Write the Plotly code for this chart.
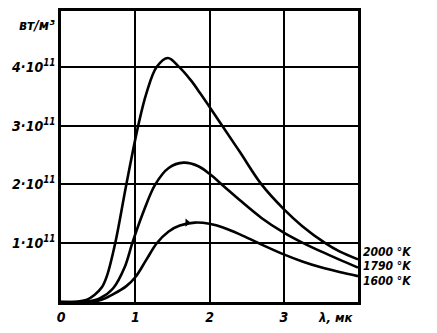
import plotly.graph_objects as go

# Spectral energy density of a black body, in units of 1e11 W/m^3, vs wavelength (µm)
lam_2000 = [0.0, 0.2, 0.35, 0.45, 0.55, 0.62, 0.73, 0.88, 1.04, 1.15, 1.29, 1.44,
            1.59, 1.75, 1.87, 2.0, 2.16, 2.41, 2.7, 3.0, 3.25, 3.55, 3.75, 4.0]
u_2000 = [0.0, 0.005, 0.04, 0.12, 0.25, 0.45, 1.0, 2.0, 3.0, 3.55, 4.0, 4.15,
          4.0, 3.77, 3.56, 3.32, 3.02, 2.55, 2.0, 1.58, 1.29, 1.01, 0.86, 0.725]

lam_1790 = [0.0, 0.35, 0.52, 0.7, 0.86, 0.96, 1.1, 1.27, 1.45, 1.65, 1.85, 2.0,
            2.2, 2.41, 2.7, 3.0, 3.25, 3.5, 3.75, 4.0]
u_1790 = [0.0, 0.005, 0.06, 0.23, 0.6, 1.0, 1.5, 2.0, 2.28, 2.37, 2.31, 2.18,
          1.96, 1.73, 1.43, 1.18, 1.01, 0.86, 0.72, 0.585]

lam_1600 = [0.0, 0.45, 0.57, 0.7, 0.88, 1.0, 1.15, 1.29, 1.45, 1.6, 1.8, 2.0,
            2.2, 2.41, 2.68, 3.0, 3.25, 3.5, 3.75, 4.0]
u_1600 = [0.0, 0.01, 0.05, 0.13, 0.27, 0.42, 0.72, 1.0, 1.2, 1.3, 1.35, 1.33,
          1.26, 1.15, 0.99, 0.81, 0.69, 0.59, 0.51, 0.44]

curve_labels = ["2000 °K", "1790 °K", "1600 °K"]
label_y_px = [251, 266, 281]

x_ticks = [0, 1, 2, 3]
y_ticks = [1, 2, 3, 4]
y_tick_text = ["1·10<sup>11</sup>", "2·10<sup>11</sup>", "3·10<sup>11</sup>", "4·10<sup>11</sup>"]

W, H = 437, 333
ML, MR, MT, MB = 61, 79, 8, 31
FONT = "DejaVu Sans Condensed, DejaVu Sans, Liberation Sans, sans-serif"

fig = go.Figure()
for lam, u in [(lam_2000, u_2000), (lam_1790, u_1790), (lam_1600, u_1600)]:
    fig.add_trace(go.Scatter(
        x=lam, y=u, mode="lines",
        line=dict(color="black", width=2.6, shape="spline", smoothing=1.0),
        hoverinfo="skip", showlegend=False))

# small arrowhead drawn on the lowest curve
fig.add_trace(go.Scatter(
    x=[1.7], y=[1.35], mode="markers",
    marker=dict(symbol="triangle-right", size=7, color="black"),
    hoverinfo="skip", showlegend=False))

fig.update_xaxes(
    range=[0, 4], tickvals=x_ticks,
    ticktext=[f"<b><i>{v}</i></b>" for v in x_ticks],
    showgrid=True, gridcolor="black", gridwidth=2,
    showline=True, linecolor="black", linewidth=2.5, mirror=True,
    zeroline=False, ticks="", ticklen=0,
    tickfont=dict(family=FONT, size=14, color="black"))
fig.update_yaxes(
    range=[0, 4.95], tickvals=y_ticks,
    ticktext=[f"<b><i>{t}</i></b>" for t in y_tick_text],
    showgrid=True, gridcolor="black", gridwidth=2,
    showline=True, linecolor="black", linewidth=2.5, mirror=True,
    zeroline=False, ticks="", ticklen=2,
    tickfont=dict(family=FONT, size=14, color="black"))

plot_h = H - MT - MB
for text, py in zip(curve_labels, label_y_px):
    fig.add_annotation(
        x=1.0, xref="paper", xanchor="left", xshift=3,
        y=1 - (py - MT) / plot_h, yref="paper", yanchor="middle",
        text=f"<b><i>{text}</i></b>", showarrow=False,
        font=dict(family=FONT, size=12, color="black"))

fig.add_annotation(
    x=3.7, xref="x", y=0, yref="paper", yanchor="top", yshift=-6,
    text="<b><i>λ, мк</i></b>", showarrow=False,
    font=dict(family=FONT, size=13, color="black"))

fig.add_annotation(
    x=0, xref="paper", xanchor="right", xshift=-4,
    y=1 - (22 - MT) / plot_h, yref="paper", yanchor="middle",
    text="<b><i>вт/м³</i></b>", showarrow=False,
    font=dict(family=FONT, size=14, color="black"))

fig.update_layout(
    width=W, height=H,
    margin=dict(l=ML, r=MR, t=MT, b=MB, pad=0),
    paper_bgcolor="white", plot_bgcolor="white",
    showlegend=False)

fig.write_html("out.html")
